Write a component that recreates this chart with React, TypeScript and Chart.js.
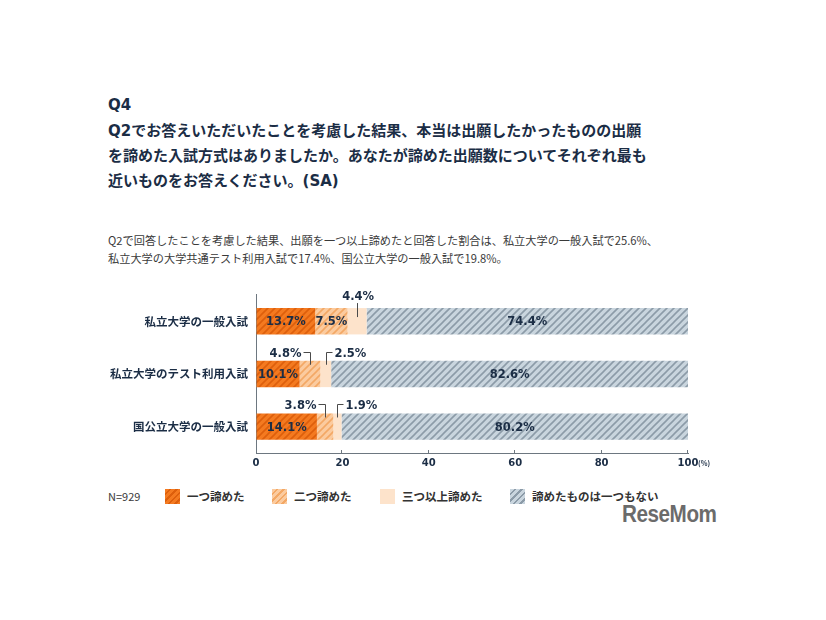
import React, { useEffect, useRef } from "react";
import { Chart, registerables } from "chart.js";

Chart.register(...registerables);

const categories = ["私立大学の一般入試", "私立大学のテスト利用入試", "国公立大学の一般入試"];
const seriesNames = ["一つ諦めた", "二つ諦めた", "三つ以上諦めた", "諦めたものは一つもない"];
const oneGivenUp = [13.7, 10.1, 14.1];
const twoGivenUp = [7.5, 4.8, 3.8];
const threePlusGivenUp = [4.4, 2.5, 1.9];
const noneGivenUp = [74.4, 82.6, 80.2];
const xTicks = [0, 20, 40, 60, 80, 100];
// label placement per series (rows): in = inside bar, above / left / right = outside with leader line
const labelModes = [
  ["in", "in", "in"],
  ["in", "left", "left"],
  ["above", "right", "right"],
  ["in", "in", "in"],
];

const NAVY = "#1b2d45";
const NUM_FONT = "'DejaVu Sans', 'Noto Sans CJK JP', sans-serif";
const JP_FONT = "'Noto Sans CJK JP', sans-serif";

const styles = [
  { bg: "#F47A20", stripe: "#DD5F0C" },
  { bg: "#FBCB9F", stripe: "#F3A865" },
  { bg: "#FDE3CB", stripe: null },
  { bg: "#C9D5DE", stripe: "#8C9BA8" },
];

function makePattern(bg: string, stripe: string | null): CanvasPattern | string {
  if (!stripe) return bg;
  const s = 7;
  const c = document.createElement("canvas");
  c.width = s;
  c.height = s;
  const ctx = c.getContext("2d")!;
  ctx.fillStyle = bg;
  ctx.fillRect(0, 0, s, s);
  ctx.strokeStyle = stripe;
  ctx.lineWidth = 1.6;
  ctx.beginPath();
  ctx.moveTo(0, s);
  ctx.lineTo(s, 0);
  ctx.moveTo(-2, 2);
  ctx.lineTo(2, -2);
  ctx.moveTo(s - 2, s + 2);
  ctx.lineTo(s + 2, s - 2);
  ctx.stroke();
  return ctx.createPattern(c, "repeat")!;
}

function cssSwatch(bg: string, stripe: string | null): string {
  if (!stripe) return bg;
  return `repeating-linear-gradient(135deg, ${bg} 0px, ${bg} 3px, ${stripe} 3px, ${stripe} 4.6px)`;
}

const labelPlugin = {
  id: "segLabels",
  afterDatasetsDraw(chart: any) {
    const ctx = chart.ctx;
    ctx.save();
    ctx.font = `bold 11.5px ${NUM_FONT}`;
    ctx.fillStyle = NAVY;
    ctx.strokeStyle = "#4a4a4a";
    ctx.lineWidth = 1;
    chart.data.datasets.forEach((ds: any, i: number) => {
      const meta = chart.getDatasetMeta(i);
      meta.data.forEach((bar: any, j: number) => {
        const v = ds.data[j];
        const cx = (bar.x + bar.base) / 2;
        const top = bar.y - bar.height / 2;
        const text = v.toFixed(1) + "%";
        const mode = labelModes[i][j];
        ctx.textBaseline = "middle";
        if (mode === "in") {
          ctx.textAlign = "center";
          ctx.fillText(text, cx, bar.y + 1);
        } else if (mode === "above") {
          const lx = Math.round(cx) + 0.5;
          ctx.beginPath();
          ctx.moveTo(lx, top - 5);
          ctx.lineTo(lx, top + 9);
          ctx.stroke();
          ctx.textAlign = "center";
          ctx.fillText(text, cx + 1, top - 11);
        } else if (mode === "left") {
          const lx = Math.round(cx) + 0.5;
          const ly = Math.round(top - 9) + 0.5;
          ctx.beginPath();
          ctx.moveTo(lx - 7, ly);
          ctx.lineTo(lx, ly);
          ctx.lineTo(lx, top + 4);
          ctx.stroke();
          ctx.textAlign = "right";
          ctx.fillText(text, lx - 9, top - 7);
        } else {
          const lx = Math.round(cx) + 0.5;
          const ly = Math.round(top - 9) + 0.5;
          ctx.beginPath();
          ctx.moveTo(lx + 6, ly);
          ctx.lineTo(lx, ly);
          ctx.lineTo(lx, top + 4);
          ctx.stroke();
          ctx.textAlign = "left";
          ctx.fillText(text, lx + 8, top - 7);
        }
      });
    });
    // inner tick marks and unit label
    const xs = chart.scales.x;
    const bottom = chart.chartArea.bottom;
    ctx.strokeStyle = "#6d7780";
    xTicks.forEach((t) => {
      if (t === 0) return;
      const px = Math.round(xs.getPixelForValue(t)) - 0.5;
      ctx.beginPath();
      ctx.moveTo(px, bottom - 3);
      ctx.lineTo(px, bottom);
      ctx.stroke();
    });
    ctx.font = `bold 7px ${JP_FONT}`;
    ctx.fillStyle = NAVY;
    ctx.textAlign = "left";
    ctx.textBaseline = "middle";
    ctx.fillText("(%)", chart.chartArea.right + 10, bottom + 10);
    ctx.restore();
  },
};

function BarChart() {
  const ref = useRef<HTMLCanvasElement>(null);
  useEffect(() => {
    const series = [oneGivenUp, twoGivenUp, threePlusGivenUp, noneGivenUp];
    const chart = new Chart(ref.current!, {
      type: "bar",
      data: {
        labels: categories,
        datasets: series.map((d, i) => ({
          label: seriesNames[i],
          data: d,
          backgroundColor: makePattern(styles[i].bg, styles[i].stripe) as any,
          borderWidth: 0,
          barPercentage: 0.5,
          categoryPercentage: 1,
        })),
      },
      options: {
        indexAxis: "y",
        animation: false,
        responsive: false,
        maintainAspectRatio: false,
        layout: { padding: { top: 14, right: 52, left: 0, bottom: 0 } },
        plugins: { legend: { display: false }, tooltip: { enabled: false } },
        scales: {
          x: {
            stacked: true,
            min: 0,
            max: 100,
            afterFit: (s: any) => {
              s.height = 27;
            },
            afterBuildTicks: (s: any) => {
              s.ticks = xTicks.map((v) => ({ value: v }));
            },
            grid: { display: true, drawOnChartArea: false, drawTicks: false },
            border: { display: true, color: "#6d7780", width: 1 },
            ticks: {
              padding: 4,
              color: NAVY,
              font: { family: NUM_FONT, size: 10, weight: "bold" },
            },
          },
          y: {
            stacked: true,
            afterFit: (s: any) => {
              s.width = 156;
            },
            grid: { display: false, drawTicks: false },
            border: { display: true, color: "#6d7780", width: 1 },
            ticks: {
              padding: 8,
              color: NAVY,
              font: { family: JP_FONT, size: 11.5, weight: "bold" },
            },
          },
        },
      },
      plugins: [labelPlugin],
    });
    return () => chart.destroy();
  }, []);
  return <canvas ref={ref} width={640} height={200} style={{ position: "absolute", left: 100, top: 280 }} />;
}

export default function App() {
  const legendX = [165, 272, 380, 510];
  return (
    <div
      style={{
        position: "absolute",
        left: 0,
        top: 0,
        width: 826,
        height: 620,
        background: "#fff",
        overflow: "hidden",
        fontFamily: JP_FONT,
      }}
    >
      <div
        style={{
          position: "absolute",
          left: 108,
          top: 96,
          fontFamily: NUM_FONT,
          fontWeight: 700,
          fontSize: 15,
          color: NAVY,
        }}
      >
        Q4
      </div>
      <div
        style={{
          position: "absolute",
          left: 108,
          top: 119,
          fontWeight: 700,
          fontSize: 15,
          lineHeight: "25px",
          color: NAVY,
          whiteSpace: "nowrap",
          fontFamily: NUM_FONT,
        }}
      >
        <div>Q2でお答えいただいたことを考慮した結果、本当は出願したかったものの出願</div>
        <div>を諦めた入試方式はありましたか。あなたが諦めた出願数についてそれぞれ最も</div>
        <div>近いものをお答えください。(SA)</div>
      </div>
      <div
        style={{
          position: "absolute",
          left: 108,
          top: 231,
          fontSize: 11.2,
          lineHeight: "18px",
          color: "#3a3a3a",
          whiteSpace: "nowrap",
        }}
      >
        <div>Q2で回答したことを考慮した結果、出願を一つ以上諦めたと回答した割合は、私立大学の一般入試で25.6%、</div>
        <div>私立大学の大学共通テスト利用入試で17.4%、国公立大学の一般入試で19.8%。</div>
      </div>
      <BarChart />
      <div style={{ position: "absolute", left: 108, top: 488, fontSize: 11, lineHeight: "16px", color: "#3a3a3a" }}>
        N=929
      </div>
      {seriesNames.map((n, i) => (
        <div key={n} style={{ position: "absolute", left: legendX[i], top: 488, display: "flex", alignItems: "center" }}>
          <div style={{ width: 15, height: 15, background: cssSwatch(styles[i].bg, styles[i].stripe) }} />
          <div style={{ marginLeft: 7, fontSize: 11.5, fontWeight: 700, color: "#333", whiteSpace: "nowrap" }}>{n}</div>
        </div>
      ))}
      <div
        style={{
          position: "absolute",
          left: 622,
          top: 500,
          fontFamily: "'Liberation Sans', sans-serif",
          fontWeight: 700,
          fontSize: 24,
          color: "#6b6b6b",
          letterSpacing: -0.5,
          transform: "scaleX(0.86)",
          transformOrigin: "left top",
        }}
      >
        ReseMom
      </div>
    </div>
  );
}
